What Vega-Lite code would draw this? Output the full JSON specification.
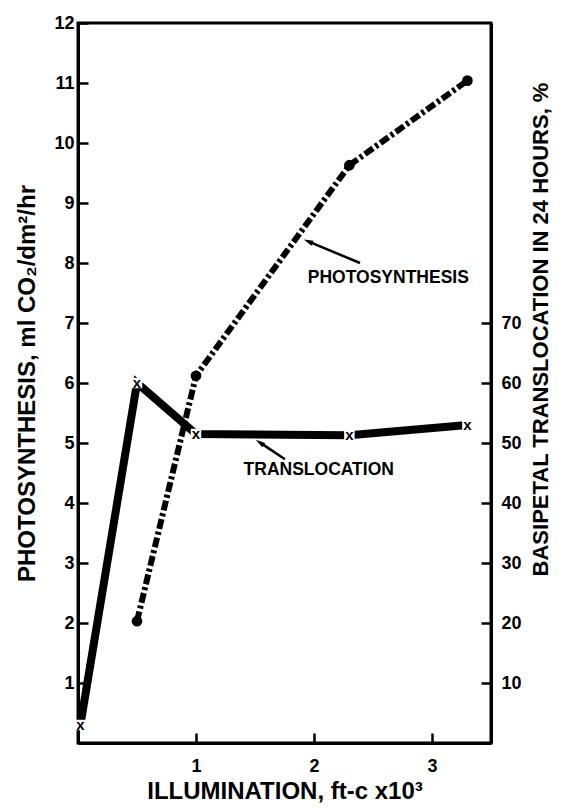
{
  "$schema": "https://vega.github.io/schema/vega-lite/v6.json",
  "width": 413,
  "height": 720,
  "autosize": "none",
  "padding": {"left": 78, "top": 23, "right": 82, "bottom": 68},
  "background": "white",
  "config": {
    "view": {"stroke": "black", "strokeWidth": 3},
    "font": "Liberation Sans",
    "axis": {
      "grid": false,
      "domainColor": "black",
      "domainWidth": 3,
      "tickColor": "black",
      "tickWidth": 2.5,
      "tickSize": -10,
      "labelFont": "Liberation Sans",
      "labelFontSize": 18,
      "labelFontWeight": "bold",
      "labelColor": "black",
      "titleFont": "Liberation Sans",
      "titleFontSize": 22,
      "titleFontWeight": "bold",
      "titleColor": "black"
    }
  },
  "datasets": {
    "photosynthesis": [
      {"x": 0.5, "y": 2.03},
      {"x": 1.0, "y": 6.12},
      {"x": 2.3, "y": 9.63},
      {"x": 3.3, "y": 11.04}
    ],
    "translocation": [
      {"x": 0.02, "pct": 3},
      {"x": 0.5, "pct": 60},
      {"x": 1.0, "pct": 51.5},
      {"x": 2.3, "pct": 51.3},
      {"x": 3.3, "pct": 53}
    ],
    "labels": [
      {"x": 2.63, "y": 7.75, "label": "PHOTOSYNTHESIS"},
      {"x": 2.04, "y": 4.55, "label": "TRANSLOCATION"}
    ],
    "arrows": [
      {"name": "photo", "x": 2.39, "y": 8.0, "x2": 1.95, "y2": 8.36},
      {"name": "trans", "x": 1.754, "y": 4.73, "x2": 1.54, "y2": 5.01}
    ]
  },
  "encoding": {
    "x": {
      "field": "x",
      "type": "quantitative",
      "scale": {"domain": [0, 3.5], "nice": false, "zero": false},
      "axis": {
        "values": [1, 2, 3],
        "labelPadding": 24,
        "title": "ILLUMINATION, ft-c x10³",
        "titleFontSize": 24,
        "titlePadding": 4
      }
    }
  },
  "layer": [
    {
      "encoding": {
        "y": {
          "field": "y",
          "type": "quantitative",
          "scale": {"domain": [0, 12], "nice": false, "zero": false},
          "axis": {
            "orient": "left",
            "values": [1, 2, 3, 4, 5, 6, 7, 8, 9, 10, 11, 12],
            "labelPadding": 14,
            "title": "PHOTOSYNTHESIS, ml CO₂/dm²/hr",
            "titleFontSize": 24,
            "titlePadding": 14
          }
        }
      },
      "layer": [
        {
          "data": {"name": "photosynthesis"},
          "mark": {"type": "line", "color": "black", "strokeWidth": 6, "strokeDash": [10, 3, 3, 3]}
        },
        {
          "data": {"name": "photosynthesis"},
          "mark": {"type": "point", "shape": "circle", "filled": true, "color": "black", "size": 115, "opacity": 1}
        },
        {
          "data": {"name": "arrows"},
          "mark": {"type": "rule", "color": "black", "strokeWidth": 2.5},
          "encoding": {
            "x2": {"field": "x2"},
            "y2": {"field": "y2"}
          }
        },
        {
          "data": {"name": "arrows"},
          "transform": [{"filter": "datum.name == 'photo'"}],
          "mark": {"type": "point", "shape": "M0,-1L0.55,1L-0.55,1Z", "filled": true, "color": "black", "size": 90, "opacity": 1, "angle": 293},
          "encoding": {
            "x": {"field": "x2", "type": "quantitative"},
            "y": {"field": "y2", "type": "quantitative"}
          }
        },
        {
          "data": {"name": "arrows"},
          "transform": [{"filter": "datum.name == 'trans'"}],
          "mark": {"type": "point", "shape": "M0,-1L0.55,1L-0.55,1Z", "filled": true, "color": "black", "size": 90, "opacity": 1, "angle": 304},
          "encoding": {
            "x": {"field": "x2", "type": "quantitative"},
            "y": {"field": "y2", "type": "quantitative"}
          }
        },
        {
          "data": {"name": "labels"},
          "mark": {"type": "text", "font": "Liberation Sans", "fontSize": 17.5, "fontWeight": "bold", "color": "black", "align": "center", "baseline": "middle"},
          "encoding": {"text": {"field": "label"}}
        }
      ]
    },
    {
      "data": {"name": "translocation"},
      "encoding": {
        "y": {
          "field": "pct",
          "type": "quantitative",
          "scale": {"domain": [0, 120], "nice": false, "zero": false},
          "axis": {
            "orient": "right",
            "values": [10, 20, 30, 40, 50, 60, 70],
            "labelPadding": 20,
            "title": "BASIPETAL TRANSLOCATION IN 24 HOURS, %",
            "titleAngle": 270,
            "titleBaseline": "middle",
            "titleAlign": "center",
            "titleX": 49,
            "titleY": 306
          }
        }
      },
      "layer": [
        {
          "mark": {"type": "line", "color": "black", "strokeWidth": 8, "strokeCap": "butt"}
        },
        {
          "mark": {"type": "point", "shape": "square", "filled": true, "color": "white", "size": 110, "opacity": 1}
        },
        {
          "mark": {"type": "text", "text": "x", "font": "Liberation Sans", "fontSize": 15, "fontWeight": "bold", "color": "black", "align": "center", "baseline": "middle"}
        }
      ]
    }
  ],
  "resolve": {"scale": {"y": "independent"}}
}
